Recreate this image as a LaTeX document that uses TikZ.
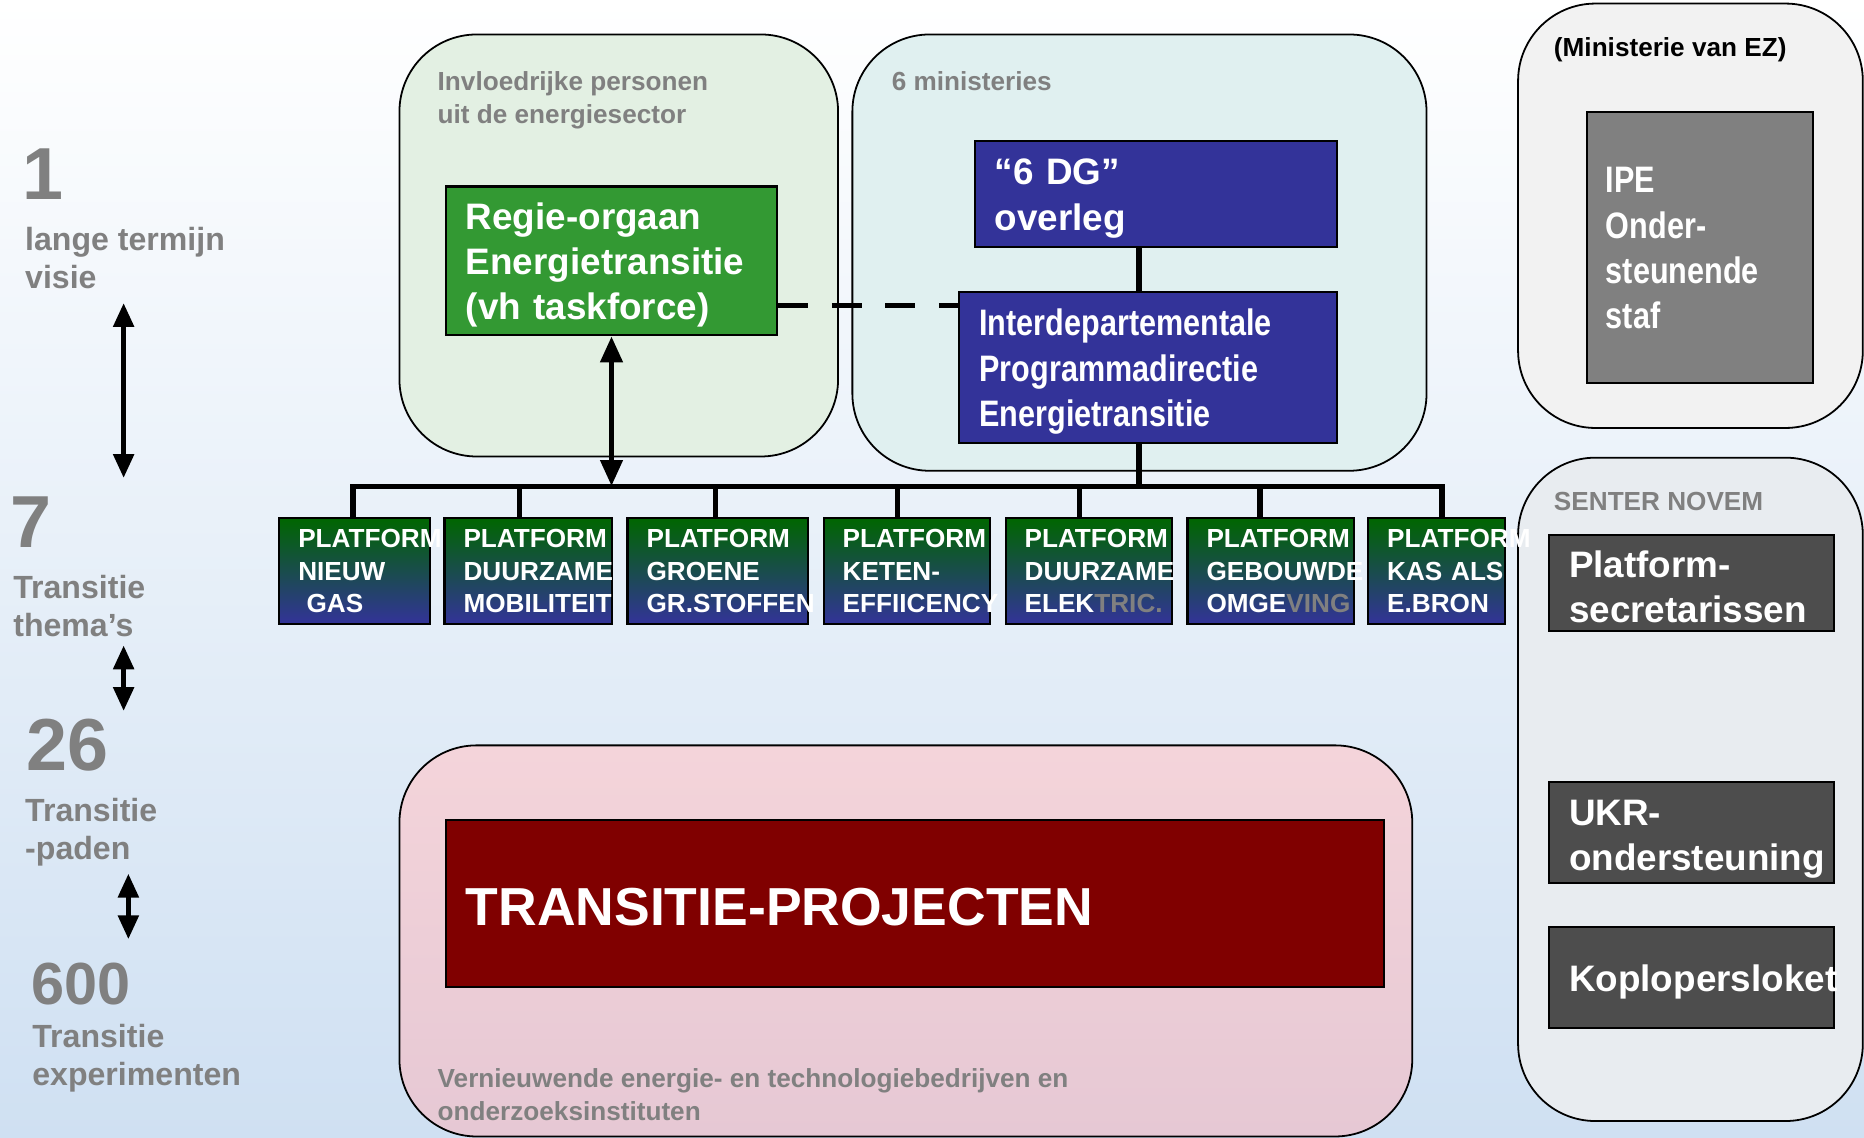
\documentclass[tikz,border=0pt]{standalone}
\usepackage{fontspec}
\setmainfont{Liberation Sans}
\newfontfamily\narrowfont{Liberation Sans}[FakeStretch=0.83]
\usetikzlibrary{arrows.meta}
\hyphenpenalty=10000
\exhyphenpenalty=10000
\definecolor{txtgray}{HTML}{808080}
\definecolor{bgmid}{HTML}{EEF4FB}
\definecolor{bgbot}{HTML}{CFE0F2}
\definecolor{greenbg}{HTML}{E3F0E3}
\definecolor{tealbg}{HTML}{E0F0F0}
\definecolor{ezbg}{HTML}{F2F2F2}
\definecolor{senterbg}{HTML}{E8ECF0}
\definecolor{pinktop}{HTML}{F4D4DA}
\definecolor{pinkbot}{HTML}{E6C8D4}
\definecolor{regiegreen}{HTML}{339933}
\definecolor{dgblue}{HTML}{333399}
\definecolor{ipegray}{HTML}{808080}
\definecolor{darkbox}{HTML}{4D4D4D}
\definecolor{maroonbox}{HTML}{800000}
\definecolor{platgreen}{HTML}{006600}
\definecolor{platblue}{HTML}{333399}
\tikzset{
  cont/.style={draw=black, line width=1.5pt, rounded corners=65pt},
  lbl/.style={anchor=north west, inner sep=0pt, align=left, text=txtgray, font=\bfseries\fontsize{22}{27.5}\selectfont},
  side/.style={anchor=north west, inner sep=0pt, align=left, text=txtgray, font=\bfseries\fontsize{27}{32}\selectfont},
  bignum/.style={anchor=north west, inner sep=0pt, text=txtgray, font=\bfseries\fontsize{62}{62}\selectfont},
  solidbox/.style={draw=black, line width=1.8pt, anchor=north west, text=white, align=left, inner xsep=17pt, inner ysep=0pt, text height=29pt, font=\bfseries\fontsize{31}{38}\selectfont},
  narrowbox/.style={solidbox, font=\narrowfont\bfseries\fontsize{31}{38}\selectfont},
  plat/.style={draw=black, line width=1.8pt, anchor=north west, top color=platgreen, bottom color=platblue, text=white, align=left, inner xsep=16pt, inner ysep=0pt, minimum height=89pt, font=\bfseries\fontsize{22}{27.5}\selectfont},
  sidearrow/.style={line width=4pt, {Triangle[length=20pt,width=17pt]}-{Triangle[length=20pt,width=17pt]}},
  regarrow/.style={line width=5pt, {Triangle[length=22pt,width=18pt]}-{Triangle[length=22pt,width=18pt]}},
  bus/.style={line width=4.5pt, line join=miter},
  conn/.style={line width=5pt},
  dashline/.style={line width=5pt, dash pattern=on 25pt off 20pt},
}
\begin{document}
\begin{tikzpicture}[x=1pt,y=-1pt]
\useasboundingbox (0,0) rectangle (1568,957);
\clip (0,0) rectangle (1568,957);
\shade[top color=white, middle color=bgmid, bottom color=bgbot] (0,0) rectangle (1568,957);

% containers
\draw[cont, fill=greenbg] (336,29) rectangle (705,384);
\draw[cont, fill=tealbg] (717,29) rectangle (1200,396);
\draw[cont, fill=ezbg] (1277,3) rectangle (1567,360);
\draw[cont, fill=senterbg] (1277,385) rectangle (1567,943);
\draw[cont, top color=pinktop, bottom color=pinkbot] (336,627) rectangle (1188,956);

% container labels
\node[lbl] (lblgreen) at (368,60) {Invloedrijke personen\\uit de energiesector};
\node[lbl] (lblteal) at (750,60) {6 ministeries};
\node[lbl, text=black] (lblez) at (1307,31) {(Ministerie van EZ)};
\node[lbl] (lblsenter) at (1307,414) {SENTER NOVEM};
\node[lbl] (lblpink) at (368,899) {Vernieuwende energie- en technologiebedrijven en\\onderzoeksinstituten};

% left column
\node[bignum] (n1) at (19,125) {1};
\node[side] (t1) at (21,191) {lange termijn\\visie};
\node[bignum] (n7) at (9,418) {7};
\node[side] (t7) at (11,484) {Transitie\\thema’s};
\node[bignum] (n26) at (22,605) {26};
\node[side] (t26) at (21,671) {Transitie\\-paden};
\node[bignum, font=\bfseries\fontsize{50}{50}\selectfont] (n600) at (26,810) {600};
\node[side] (t600) at (27,861) {Transitie\\experimenten};

\coordinate (a1t) at (104,255); \coordinate (a1b) at (104,402);
\coordinate (a2t) at (104,543); \coordinate (a2b) at (104,598);
\coordinate (a3t) at (108,735); \coordinate (a3b) at (108,790);
\draw[sidearrow] (a1t) -- (a1b);
\draw[sidearrow] (a2t) -- (a2b);
\draw[sidearrow] (a3t) -- (a3b);

% main boxes
\node[solidbox, fill=regiegreen, text width=245pt, minimum height=125pt] (regie) at (374,156) {Regie-orgaan\\Energietransitie\\(vh taskforce)};
\node[solidbox, fill=dgblue, text width=271pt, minimum height=89pt] (dg) at (819,118) {“6 DG”\\overleg};
\node[narrowbox, fill=dgblue, text width=284pt, minimum height=127pt] (ipd) at (806,245) {Interdepartementale\\Programmadirectie\\Energietransitie};
\node[narrowbox, fill=ipegray, inner xsep=16pt, text width=158pt, minimum height=228pt, text height=23pt] (ipe) at (1334,93) {IPE\\Onder-\\steunende\\staf};
\node[solidbox, fill=darkbox, text width=206pt, minimum height=81pt] (psec) at (1302,449) {Platform-\\secretarissen};
\node[solidbox, fill=darkbox, text width=206pt, minimum height=85pt, text height=32pt] (ukr) at (1302,657) {UKR-\\ondersteuning};
\node[solidbox, fill=darkbox, text width=206pt, minimum height=85pt] (kop) at (1302,779) {Koplopersloket};
\node[solidbox, fill=maroonbox, text width=755pt, minimum height=140pt, text height=37pt, font=\bfseries\fontsize{45}{50}\selectfont] (tp) at (374,689) {TRANSITIE-PROJECTEN};

% connectors
\coordinate (vx) at (958,0);
\coordinate (dashy) at (0,257);
\coordinate (busL) at (297,409);
\coordinate (busR) at (1213,409);
\coordinate (b2) at (437,409);
\coordinate (b3) at (602,409);
\coordinate (b4) at (755,409);
\coordinate (b5) at (908,409);
\coordinate (b6) at (1060,409);

\draw[conn] (dg.south -| vx) -- (ipd.north -| vx);
\draw[bus] (ipd.south -| vx) -- (vx |- busL);
\draw[dashline] (regie.east |- dashy) -- (ipd.west |- dashy);

% platforms
\node[plat, text width=95pt] (p1) at (234,435) {PLATFORM\\NIEUW\\\hspace*{7pt}GAS};
\node[plat, text width=109pt] (p2) at (373,435) {PLATFORM\\DUURZAME\\MOBILITEIT};
\node[plat, text width=120pt] (p3) at (527,435) {PLATFORM\\GROENE\\GR.STOFFEN};
\node[plat, text width=108pt] (p4) at (692,435) {PLATFORM\\KETEN-\\EFFIICENCY};
\node[plat, text width=108pt] (p5) at (845,435) {PLATFORM\\DUURZAME\\ELEK\textcolor{txtgray}{TRIC.}};
\node[plat, text width=108pt] (p6) at (998,435) {PLATFORM\\GEBOUWDE\\OMGE\textcolor{txtgray}{VING}};
\node[plat, text width=83pt] (p7) at (1150,435) {PLATFORM\\\mbox{KAS ALS}\\E.BRON};

\draw[bus] (p1.north -| busL) -- (busL) -- (busR) -- (p7.north -| busR);
\draw[bus] (b2) -- (b2 |- p2.north);
\draw[bus] (b3) -- (b3 |- p3.north);
\draw[bus] (b4) -- (b4 |- p4.north);
\draw[bus] (b5) -- (b5 |- p5.north);
\draw[bus] (b6) -- (b6 |- p6.north);
\draw[regarrow] (regie.south) -- (regie.south |- busL);
\end{tikzpicture}
\end{document}
